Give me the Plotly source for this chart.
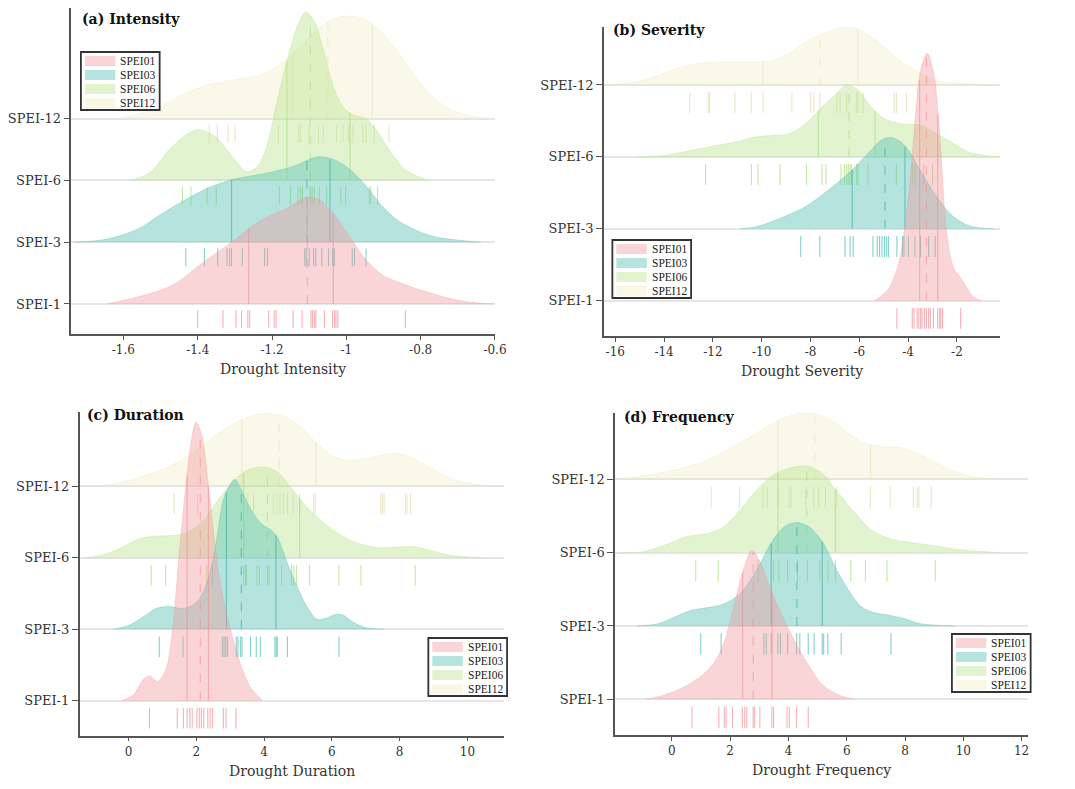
import numpy as np
import plotly.graph_objects as go

W, H = 1075, 789
OFF = 8  # the page body adds an 8px margin around the figure

# ---------------- data ----------------
series_names = ["SPEI01", "SPEI03", "SPEI06", "SPEI12"]
ridge_labels = ["SPEI-1", "SPEI-3", "SPEI-6", "SPEI-12"]

# (a) Intensity: density outline (x, height above baseline)
int_x_1 = [-1.644, -1.476, -1.388, -1.30, -1.256, -1.212, -1.159, -1.106, -1.07, -1.035, -0.991, -0.947, -0.903, -0.859, -0.77, -0.682, -0.60]
int_h_1 = [0, 0.28, 0.66, 1.04, 1.25, 1.41, 1.55, 1.73, 1.68, 1.47, 1.09, 0.71, 0.47, 0.35, 0.17, 0.04, 0]
int_x_3 = [-1.735, -1.653, -1.565, -1.494, -1.432, -1.37, -1.309, -1.212, -1.141, -1.079, -1.035, -0.991, -0.947, -0.903, -0.859, -0.77, -0.638]
int_h_3 = [0, 0.04, 0.2, 0.47, 0.69, 0.88, 1.01, 1.12, 1.23, 1.38, 1.34, 1.18, 0.91, 0.58, 0.34, 0.1, 0]
int_x_6 = [-1.582, -1.53, -1.476, -1.423, -1.397, -1.353, -1.30, -1.269, -1.238, -1.212, -1.185, -1.159, -1.132, -1.11, -1.088, -1.062, -1.035, -1.009, -0.982, -0.947, -0.92, -0.885, -0.841, -0.779]
int_h_6 = [0, 0.12, 0.5, 0.77, 0.82, 0.71, 0.33, 0.14, 0.23, 0.6, 1.32, 1.95, 2.49, 2.72, 2.6, 2.11, 1.52, 1.19, 1.06, 1.0, 0.82, 0.5, 0.17, 0]
int_x_12 = [-1.618, -1.521, -1.432, -1.37, -1.30, -1.229, -1.168, -1.123, -1.079, -1.035, -0.995, -0.947, -0.903, -0.859, -0.814, -0.77, -0.717, -0.656, -0.62]
int_h_12 = [0, 0.14, 0.41, 0.55, 0.63, 0.71, 0.92, 1.17, 1.44, 1.61, 1.66, 1.6, 1.38, 1.06, 0.68, 0.36, 0.14, 0.03, 0]
int_rug_1 = [-1.400, -1.332, -1.297, -1.282, -1.265, -1.260, -1.209, -1.194, -1.189, -1.143, -1.119, -1.095, -1.091, -1.086, -1.082, -1.059, -1.037, -1.032, -1.028, -1.023, -0.841]
int_rug_3 = [-1.432, -1.382, -1.346, -1.321, -1.314, -1.309, -1.280, -1.220, -1.212, -1.112, -1.108, -1.100, -1.088, -1.082, -1.066, -1.048, -1.037, -1.032, -0.984, -0.978, -0.947]
int_rug_6 = [-1.441, -1.418, -1.375, -1.350, -1.180, -1.150, -1.130, -1.123, -1.118, -1.097, -1.092, -1.086, -1.073, -1.053, -1.015, -1.002, -0.938, -0.934, -0.916]
int_rug_12 = [-1.369, -1.347, -1.318, -1.300, -1.183, -1.128, -1.123, -1.101, -1.075, -1.062, -1.026, -1.009, -0.995, -0.991, -0.982, -0.956, -0.947, -0.925, -0.885]
int_quart_1 = [-1.263, -1.105, -1.035]
int_quart_3 = [-1.309, -1.106, -1.044]
int_quart_6 = [-1.16, -1.097, -0.99]
int_quart_12 = [-1.145, -1.05, -0.93]

# (b) Severity
sev_x_1 = [-5.38, -4.84, -4.43, -4.03, -3.76, -3.49, -3.22, -2.95, -2.69, -2.42, -2.15, -1.88, -1.61, -1.34, -1.0]
sev_h_1 = [0, 0.15, 0.47, 1.31, 2.32, 3.2, 3.44, 3.16, 2.23, 0.94, 0.47, 0.33, 0.19, 0.06, 0]
sev_x_3 = [-10.89, -10.22, -9.28, -8.2, -7.26, -6.32, -5.64, -5.11, -4.74, -4.3, -3.9, -3.49, -2.82, -2.15, -1.48, -0.47]
sev_h_3 = [0, 0.03, 0.14, 0.31, 0.54, 0.81, 1.05, 1.23, 1.27, 1.21, 1.05, 0.81, 0.44, 0.17, 0.04, 0]
sev_x_6 = [-15.19, -13.98, -12.91, -11.83, -11.02, -10.22, -9.41, -8.87, -8.2, -7.53, -6.99, -6.52, -6.05, -5.51, -4.97, -4.3, -3.49, -2.82, -2.15, -1.48, -0.27]
sev_h_6 = [0, 0.02, 0.09, 0.16, 0.21, 0.28, 0.3, 0.32, 0.46, 0.69, 0.86, 1.0, 0.93, 0.69, 0.53, 0.46, 0.44, 0.32, 0.19, 0.06, 0]
sev_x_12 = [-16.4, -15.19, -14.25, -13.31, -12.5, -11.56, -10.22, -9.54, -8.87, -8.2, -7.53, -6.52, -6.05, -5.38, -4.84, -4.17, -3.49, -2.82, -1.75, -0.53]
sev_h_12 = [0, 0.04, 0.13, 0.25, 0.3, 0.32, 0.32, 0.34, 0.44, 0.6, 0.71, 0.81, 0.77, 0.64, 0.48, 0.3, 0.16, 0.06, 0.02, 0]
sev_rug_1 = [-4.46, -3.83, -3.76, -3.63, -3.56, -3.49, -3.43, -3.33, -3.25, -3.16, -3.09, -2.96, -2.79, -2.71, -2.66, -2.59, -1.85]
sev_rug_3 = [-8.40, -7.62, -6.59, -6.38, -6.25, -5.44, -5.27, -5.17, -5.07, -4.97, -4.88, -4.80, -4.46, -4.23, -4.17, -3.99, -3.72, -3.49, -3.16, -2.89]
sev_rug_6 = [-12.30, -10.42, -10.15, -9.25, -8.16, -7.53, -7.37, -6.75, -6.61, -6.52, -6.45, -6.38, -6.32, -6.12, -6.05, -5.64, -4.48, -3.83, -3.72, -3.36, -3.00]
sev_rug_12 = [-12.95, -12.19, -12.14, -11.10, -10.43, -9.95, -8.76, -8.00, -7.86, -7.62, -6.92, -6.79, -6.52, -6.12, -6.05, -5.85, -4.57, -4.48, -4.07]
sev_quart_1 = [-3.53, -3.25, -2.79]
sev_quart_3 = [-6.29, -4.95, -4.13]
sev_quart_6 = [-7.68, -6.42, -5.35]
sev_quart_12 = [-9.95, -7.62, -6.05]

# (c) Duration
dur_x_1 = [-0.2, 0.14, 0.43, 0.62, 0.86, 1.1, 1.3, 1.49, 1.68, 1.83, 1.99, 2.17, 2.36, 2.56, 2.75, 3.04, 3.33, 3.62, 3.96]
dur_h_1 = [0, 0.08, 0.29, 0.35, 0.27, 0.43, 0.99, 2.02, 2.95, 3.56, 3.9, 3.7, 3.0, 2.16, 1.55, 0.94, 0.48, 0.17, 0]
dur_x_3 = [-0.45, 0.04, 0.43, 0.81, 1.2, 1.59, 1.97, 2.27, 2.56, 2.8, 2.99, 3.14, 3.33, 3.62, 3.91, 4.2, 4.39, 4.69, 4.98, 5.27, 5.56, 5.8, 6.14, 6.33, 6.62, 7.01, 7.54]
dur_h_3 = [0, 0.06, 0.17, 0.29, 0.32, 0.29, 0.36, 0.59, 1.15, 1.81, 2.02, 2.1, 1.95, 1.67, 1.48, 1.39, 1.29, 0.92, 0.59, 0.31, 0.14, 0.15, 0.21, 0.2, 0.1, 0.02, 0]
dur_x_6 = [-1.32, -0.74, -0.25, 0.23, 0.72, 1.2, 1.68, 2.17, 2.65, 3.14, 3.52, 4.0, 4.39, 4.78, 5.17, 5.56, 6.04, 6.52, 7.01, 7.49, 7.98, 8.36, 8.85, 9.43, 10.4]
dur_h_6 = [0, 0.04, 0.13, 0.25, 0.3, 0.31, 0.34, 0.5, 0.81, 1.09, 1.23, 1.27, 1.2, 0.99, 0.76, 0.57, 0.39, 0.25, 0.17, 0.14, 0.15, 0.16, 0.11, 0.04, 0]
dur_x_12 = [-1.41, -0.45, 0.43, 1.2, 1.97, 2.65, 3.33, 4.0, 4.59, 5.07, 5.56, 6.04, 6.52, 7.01, 7.78, 8.27, 8.94, 9.62, 10.4, 11.05]
dur_h_12 = [0, 0.03, 0.14, 0.28, 0.49, 0.74, 0.93, 1.02, 0.98, 0.84, 0.6, 0.42, 0.36, 0.39, 0.46, 0.42, 0.25, 0.09, 0.02, 0]
dur_rug_1 = [0.62, 1.44, 1.62, 1.73, 1.81, 1.88, 2.02, 2.09, 2.15, 2.22, 2.34, 2.41, 2.48, 2.80, 2.88, 3.17]
dur_rug_3 = [0.91, 1.61, 2.77, 2.82, 2.87, 2.92, 3.18, 3.23, 3.31, 3.35, 3.60, 3.77, 3.89, 4.32, 4.36, 4.39, 4.69, 6.21]
dur_rug_6 = [0.67, 1.10, 2.31, 2.48, 3.40, 3.45, 3.48, 3.79, 3.86, 4.10, 4.15, 4.52, 4.81, 4.88, 4.96, 5.34, 6.21, 6.86, 8.46]
dur_rug_12 = [1.35, 2.04, 3.52, 3.69, 4.28, 4.38, 4.47, 4.57, 4.69, 4.86, 5.05, 5.46, 5.51, 7.44, 7.49, 7.54, 8.17, 8.22, 8.32]
dur_quart_1 = [1.73, 2.12, 2.36]
dur_quart_3 = [2.89, 3.33, 4.35]
dur_quart_6 = [3.4, 4.1, 5.05]
dur_quart_12 = [3.35, 4.45, 5.53]

# (d) Frequency
freq_x_1 = [-0.92, -0.25, 0.43, 0.99, 1.44, 1.78, 2.12, 2.45, 2.74, 3.02, 3.35, 3.8, 4.26, 4.71, 5.16, 5.72, 6.28]
freq_h_1 = [0, 0.06, 0.17, 0.31, 0.49, 0.76, 1.26, 1.76, 2.03, 1.88, 1.54, 1.13, 0.76, 0.45, 0.2, 0.06, 0]
freq_x_3 = [-1.2, -0.47, 0.09, 0.65, 1.22, 1.78, 2.34, 2.9, 3.47, 3.92, 4.31, 4.71, 5.16, 5.61, 6.06, 6.51, 6.96, 7.41, 7.97, 8.53, 9.71]
freq_h_3 = [0, 0.03, 0.12, 0.21, 0.25, 0.3, 0.44, 0.76, 1.17, 1.37, 1.41, 1.35, 1.15, 0.8, 0.49, 0.26, 0.18, 0.15, 0.1, 0.03, 0]
freq_x_6 = [-1.71, -1.04, -0.25, 0.54, 1.22, 1.78, 2.34, 2.9, 3.47, 4.03, 4.65, 5.16, 5.72, 6.28, 6.84, 7.41, 7.97, 8.53, 9.21, 9.88, 11.23]
freq_h_6 = [0, 0.01, 0.1, 0.22, 0.26, 0.35, 0.58, 0.85, 1.06, 1.15, 1.18, 1.08, 0.81, 0.54, 0.31, 0.2, 0.15, 0.12, 0.08, 0.04, 0]
freq_x_12 = [-1.94, -1.04, 0.09, 1.22, 2.12, 2.9, 3.69, 4.59, 5.38, 6.06, 6.62, 7.18, 7.97, 8.53, 9.1, 9.88, 10.78, 12.15]
freq_h_12 = [0, 0.04, 0.13, 0.26, 0.45, 0.63, 0.81, 0.91, 0.83, 0.63, 0.49, 0.45, 0.42, 0.33, 0.22, 0.08, 0.01, 0]
freq_rug_1 = [0.69, 1.61, 1.80, 1.86, 2.08, 2.42, 2.50, 2.57, 2.79, 2.84, 3.02, 3.43, 3.49, 3.95, 4.03, 4.28, 4.68]
freq_rug_3 = [0.99, 1.69, 3.16, 3.24, 3.41, 3.64, 3.73, 3.97, 4.28, 4.39, 4.68, 4.88, 5.16, 5.21, 5.35, 5.81, 7.52]
freq_rug_6 = [0.82, 1.59, 2.96, 3.49, 3.67, 3.97, 4.31, 4.65, 5.08, 5.36, 5.61, 6.14, 6.64, 7.38, 9.04]
freq_rug_12 = [1.35, 2.32, 3.13, 3.28, 3.64, 4.03, 4.09, 4.59, 4.87, 5.04, 5.27, 5.66, 6.81, 7.49, 8.29, 8.42, 8.48, 8.90]
freq_quart_1 = [2.43, 2.79, 3.44]
freq_quart_3 = [3.41, 4.29, 5.16]
freq_quart_6 = [3.64, 4.63, 5.61]
freq_quart_12 = [3.64, 4.9, 6.82]

int_ticks = [-1.6, -1.4, -1.2, -1.0, -0.8, -0.6]
int_ticktext = ["-1.6", "-1.4", "-1.2", "-1", "-0.8", "-0.6"]
sev_ticks = [-16, -14, -12, -10, -8, -6, -4, -2]
dur_ticks = [0, 2, 4, 6, 8, 10]
freq_ticks = [0, 2, 4, 6, 8, 10, 12]

# ---------------- styling ----------------
FONT = "DejaVu Serif"
LEG_FONT = "Liberation Serif"
fill_cols = ["rgba(243,150,155,0.4)", "rgba(90,195,185,0.45)", "rgba(180,228,135,0.4)", "rgba(240,232,180,0.3)"]
edge_cols = ["rgba(243,150,155,0.4)", "rgba(90,195,185,0.5)", "rgba(180,228,135,0.45)", "rgba(236,231,185,0.4)"]
quart_cols = ["rgba(238,140,148,0.55)", "rgba(60,175,165,0.6)", "rgba(165,218,120,0.55)", "rgba(228,222,180,0.45)"]
rug_cols = ["rgba(244,165,170,0.85)", "rgba(90,195,185,0.75)", "rgba(180,228,135,0.8)", "rgba(232,226,188,0.85)"]
legend_cols = ["rgba(243,150,155,0.4)", "rgba(90,195,185,0.45)", "rgba(180,228,135,0.4)", "rgba(240,232,180,0.35)"]
RUG_TOP, RUG_BOT = -0.1, -0.39


def px(x):
    return min(max((x - OFF) / W, 0), 1)


def py(y):
    return min(max(1 - (y - OFF) / H, 0), 1)


panels = [
    dict(title="(a) Intensity", xlabel="Drought Intensity",
         curves=[(int_x_1, int_h_1), (int_x_3, int_h_3), (int_x_6, int_h_6), (int_x_12, int_h_12)],
         rugs=[int_rug_1, int_rug_3, int_rug_6, int_rug_12],
         quarts=[int_quart_1, int_quart_3, int_quart_6, int_quart_12],
         xdom=(67.3, 497.7), ydom=(334, 8), xr=[-1.74, -0.6], yr=[-0.486, 4.79],
         ticks=int_ticks, ticktext=int_ticktext, title_pos=(76, 19), leg=(77, 52)),
    dict(title="(b) Severity", xlabel="Drought Severity",
         curves=[(sev_x_1, sev_h_1), (sev_x_3, sev_h_3), (sev_x_6, sev_h_6), (sev_x_12, sev_h_12)],
         rugs=[sev_rug_1, sev_rug_3, sev_rug_6, sev_rug_12],
         quarts=[sev_quart_1, sev_quart_3, sev_quart_6, sev_quart_12],
         xdom=(608.3, 1011), ydom=(336, 26.7), xr=[-16.47, -0.23], yr=[-0.49, 3.81],
         ticks=sev_ticks, ticktext=[str(t) for t in sev_ticks], title_pos=(616, 29.5), leg=(617, 240)),
    dict(title="(c) Duration", xlabel="Drought Duration",
         curves=[(dur_x_1, dur_h_1), (dur_x_3, dur_h_3), (dur_x_6, dur_h_6), (dur_x_12, dur_h_12)],
         rugs=[dur_rug_1, dur_rug_3, dur_rug_6, dur_rug_12],
         quarts=[dur_quart_1, dur_quart_3, dur_quart_6, dur_quart_12],
         xdom=(75.7, 507.3), ydom=(735.7, 411.7), xr=[-1.44, 11.09], yr=[-0.49, 4.045],
         ticks=dur_ticks, ticktext=[str(t) for t in dur_ticks], title_pos=(81, 415.5), leg=(430, 638)),
    dict(title="(d) Frequency", xlabel="Drought Frequency",
         curves=[(freq_x_1, freq_h_1), (freq_x_3, freq_h_3), (freq_x_6, freq_h_6), (freq_x_12, freq_h_12)],
         rugs=[freq_rug_1, freq_rug_3, freq_rug_6, freq_rug_12],
         quarts=[freq_quart_1, freq_quart_3, freq_quart_6, freq_quart_12],
         xdom=(619.7, 1039), ydom=(735.3, 412.7), xr=[-1.95, 12.21], yr=[-0.491, 3.908],
         ticks=freq_ticks, ticktext=[str(t) for t in freq_ticks], title_pos=(627, 416.7), leg=(962, 634)),
]

fig = go.Figure()
shapes, annotations = [], []
layout_axes = {}

for p, panel in enumerate(panels):
    sfx = "" if p == 0 else str(p + 1)
    xa, ya = "x" + sfx, "y" + sfx

    # back to front: SPEI-12, SPEI-6, SPEI-3, SPEI-1
    for i in [3, 2, 1, 0]:
        xs, hs = panel["curves"][i]
        base = i
        fig.add_trace(go.Scatter(
            x=xs, y=[base + h for h in hs], xaxis=xa, yaxis=ya,
            mode="lines", line=dict(color=edge_cols[i], width=0.8, shape="spline", smoothing=0.9),
            fill="toself", fillcolor=fill_cols[i], showlegend=False, hoverinfo="skip"))

        # quartile lines: Q1 / Q3 solid, median dashed
        for k, q in enumerate(panel["quarts"][i]):
            top = base + float(np.interp(q, xs, hs))
            fig.add_trace(go.Scatter(
                x=[q, q], y=[base, top], xaxis=xa, yaxis=ya, mode="lines",
                line=dict(color=quart_cols[i], width=1.2, dash="dash" if k == 1 else "solid"),
                showlegend=False, hoverinfo="skip"))

        # rug marks
        rx, ry = [], []
        for v in panel["rugs"][i]:
            rx += [v, v, None]
            ry += [base + RUG_TOP, base + RUG_BOT, None]
        fig.add_trace(go.Scatter(
            x=rx, y=ry, xaxis=xa, yaxis=ya, mode="lines",
            line=dict(color=rug_cols[i], width=1.1), showlegend=False, hoverinfo="skip"))

    x0, x1 = panel["xdom"]
    yb, yt = panel["ydom"]
    layout_axes["xaxis" + sfx] = dict(
        domain=[px(x0), px(x1)], range=panel["xr"], anchor=ya,
        tickvals=panel["ticks"], ticktext=panel["ticktext"],
        ticks="outside", ticklen=4, tickwidth=1.2, tickcolor="#555",
        showline=True, linecolor="#555", linewidth=1.5,
        showgrid=False, zeroline=False, tickfont=dict(family=FONT, size=12, color="#333"))
    layout_axes["yaxis" + sfx] = dict(
        domain=[py(yb), py(yt)], range=panel["yr"], anchor=xa,
        tickvals=[0, 1, 2, 3], ticktext=ridge_labels,
        ticks="outside", ticklen=6, tickwidth=1.2, tickcolor="#555",
        showline=True, linecolor="#555", linewidth=1.5, layer="above traces",
        showgrid=True, gridcolor="rgba(220,220,220,0.7)", gridwidth=2, zeroline=False,
        tickfont=dict(family=FONT, size=13, color="#333"))

    # panel title
    tx, ty = panel["title_pos"]
    annotations.append(dict(
        text="<b>" + panel["title"] + "</b>", xref="paper", yref="paper",
        x=px(tx), y=py(ty), xanchor="left", yanchor="middle", showarrow=False,
        font=dict(family=FONT, size=14, color="#111")))
    # x-axis title
    annotations.append(dict(
        text=panel["xlabel"], xref=xa + " domain", yref=ya + " domain",
        x=0.5, y=0, yshift=-35, xanchor="center", yanchor="middle", showarrow=False,
        font=dict(family=FONT, size=14, color="#333")))

    # legend box
    lx, ly = panel["leg"]
    shapes.append(dict(type="rect", xref="paper", yref="paper",
                       x0=px(lx), x1=px(lx + 80), y0=py(ly), y1=py(ly + 58),
                       line=dict(color="#333", width=1.8), fillcolor="white", layer="above"))
    for j, name in enumerate(series_names):
        cy = ly + 9 + 14 * j
        shapes.append(dict(type="rect", xref="paper", yref="paper",
                           x0=px(lx + 4), x1=px(lx + 35), y0=py(cy - 5), y1=py(cy + 5),
                           line=dict(width=0), fillcolor=legend_cols[j], layer="above"))
        annotations.append(dict(
            text=name, xref="paper", yref="paper", x=px(lx + 38), y=py(cy),
            xanchor="left", yanchor="middle", showarrow=False,
            font=dict(family=LEG_FONT, size=11.5, color="#222")))

fig.update_layout(
    width=W, height=H, margin=dict(l=0, r=0, t=0, b=0),
    paper_bgcolor="white", plot_bgcolor="white", showlegend=False,
    shapes=shapes, annotations=annotations, **layout_axes)

fig.write_html("out.html")
